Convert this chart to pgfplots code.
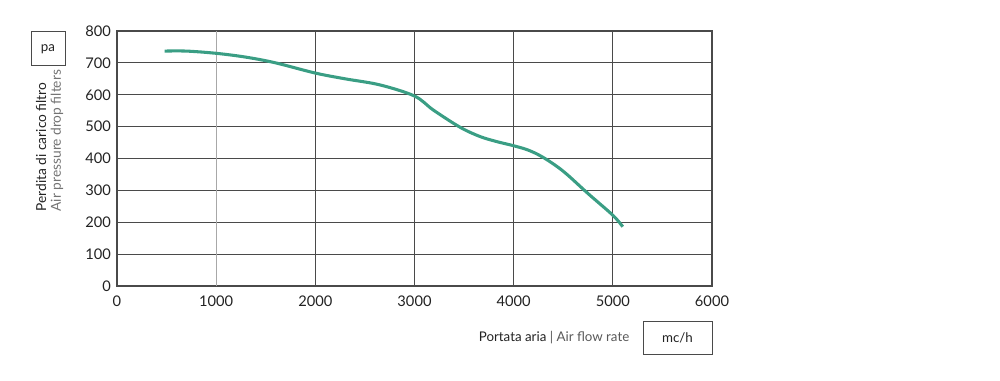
\documentclass[border=0pt]{standalone}
\usepackage{fontspec}
\setmainfont{Lato}
\usepackage{pgfplots}
\pgfplotsset{compat=1.18}
\definecolor{curve}{HTML}{3A9E84}
\definecolor{gridd}{HTML}{4A4A4A}
\definecolor{gridl}{HTML}{A8A8A8}
\definecolor{txt}{HTML}{222222}
\begin{document}
\begin{tikzpicture}[x=0.75pt,y=0.75pt]
\useasboundingbox (0,0) rectangle (1000,380);
\begin{axis}[
  at={(87.75pt,70.5pt)}, anchor=south west,
  scale only axis, width=446.25pt, height=191.25pt,
  xmin=0, xmax=6000, ymin=0, ymax=800,
  xtick={0,2000,3000,4000,5000,6000}, ytick={0,100,...,800},
  extra x ticks={1000},
  extra x tick style={grid style={gridl, line width=0.6pt}},
  grid=major,
  grid style={gridd, line width=0.6pt},
  axis line style={gridd, line width=0.8pt},
  major tick length=0pt,
  tick style={draw=none},
  /pgf/number format/assume math mode=true,
  /pgf/number format/1000 sep={},
  tick label style={font=\fontsize{11}{12}\selectfont, text=txt},
  xticklabel style={yshift=-4pt},
  yticklabel style={xshift=-1pt},
]
\addplot[curve, line width=2.3pt, smooth, tension=0.55] coordinates {
(480,737) (700,737) (1000,730) (1300,718) (1600,700) (2000,668) (2300,650) (2650,631) (3000,596) (3190,552) (3460,498) (3660,469) (3830,453) (4000,440) (4150,426) (4300,403) (4500,360) (4750,290) (5000,222) (5100,186)
};
\end{axis}
\draw[gridd, line width=0.7pt] (31,315) rectangle (65,349);
\node[font=\fontsize{10}{12}\selectfont, text=txt] at (48,331) {pa};
\node[rotate=90, anchor=west, font=\fontsize{10.3}{12}\selectfont, text=txt] at (41,164) {Perdita di carico filtro};
\node[rotate=90, anchor=west, font=\fontsize{10.3}{12}\selectfont, text=gray!90!black] at (57,164) {Air pressure drop filters};
\node[anchor=east, font=\fontsize{10}{12}\selectfont, text=txt] at (634,42) {Portata aria {\color{gray!70!black}| Air flow rate}};
\draw[gridd, line width=0.7pt] (643,26) rectangle (712,59);
\node[font=\fontsize{10}{12}\selectfont, text=txt] at (677.5,42.5) {mc/h};
\end{tikzpicture}
\end{document}
